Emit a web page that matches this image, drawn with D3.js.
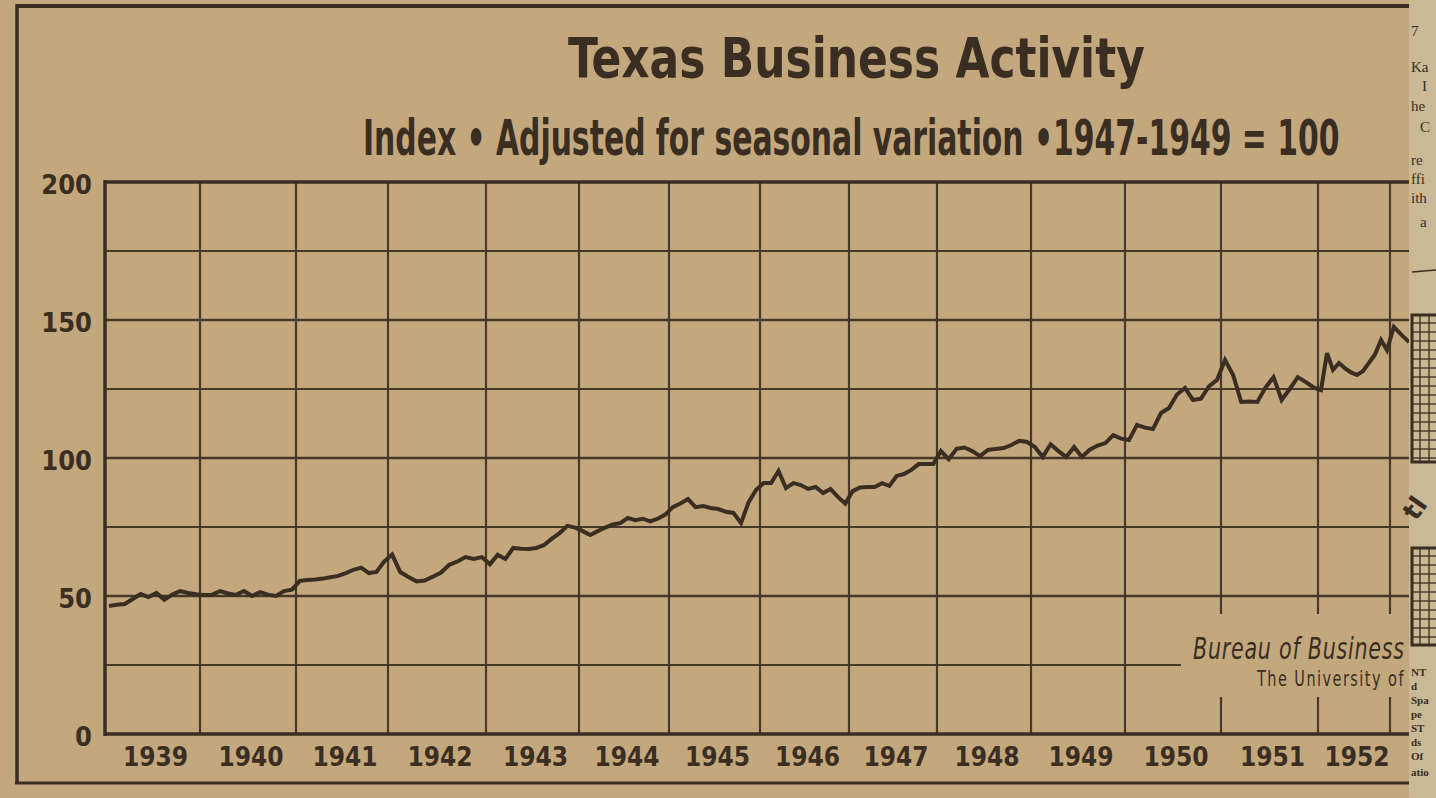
<!DOCTYPE html>
<html>
<head>
<meta charset="utf-8">
<script src="https://cdn.jsdelivr.net/npm/d3@7"></script>
<style>
html, body { margin: 0; padding: 0; background: #c4a87d; }
svg { display: block; }
</style>
</head>
<body>
<div id="chart"></div>
<script>
var width = 1436, height = 798;

//monthly index, Jan 1939 .. Mar 1953
var startYear = 1939;
var indexValues = [
    46.4, 46.8, 47.1, 48.9, 50.7, 49.6, 51.1, 48.6, 50.5, 51.8, 51.1, 50.6,   //1939
    50.4, 50.4, 51.8, 50.9, 50.4, 51.8, 50.0, 51.4, 50.5, 50.0, 51.8, 52.3,   //1940
    55.5, 55.8, 56.0, 56.3, 56.8, 57.3, 58.3, 59.5, 60.3, 58.3, 58.7, 62.5,   //1941
    65.0, 58.7, 56.9, 55.3, 55.6, 57.0, 58.5, 61.3, 62.5, 64.1, 63.4, 64.1,   //1942
    61.5, 64.9, 63.4, 67.4, 67.1, 67.0, 67.4, 68.5, 70.8, 72.8, 75.4, 74.8,   //1943
    73.5, 72.1, 73.5, 74.8, 75.9, 76.4, 78.3, 77.5, 78.0, 77.0, 78.0, 79.5,   //1944
    82.2, 83.5, 85.1, 82.2, 82.6, 81.9, 81.5, 80.5, 80.1, 76.4, 84.0, 88.5,   //1945
    90.9, 90.9, 95.3, 89.1, 90.9, 90.2, 88.8, 89.5, 87.3, 88.8, 85.9, 83.5,   //1946
    88.0, 89.3, 89.5, 89.5, 90.9, 89.9, 93.5, 94.2, 95.7, 97.8, 97.8, 97.8,   //1947
    102.5, 99.6, 103.3, 103.8, 102.5, 100.7, 102.9, 103.3, 103.6, 104.7, 106.2, 105.8, //1948
    104.0, 100.4, 105.0, 102.5, 100.4, 104.0, 100.4, 103.0, 104.5, 105.4, 108.3, 107.0, //1949
    106.5, 112.0, 111.0, 110.5, 116.3, 118.1, 123.0, 125.4, 121.0, 121.5, 126.0, 128.3, //1950
    135.5, 130.1, 120.3, 120.5, 120.3, 125.5, 129.3, 121.0, 125.0, 129.3, 127.5, 125.5, //1951
    124.6, 138.0, 131.9, 134.4, 132.5, 131.0, 130.1, 131.5, 134.5, 137.5, 142.8, 139.1, //1952
    147.5, 144.6, 142.0                                                        //1953
];

var yearLabels = [1939, 1940, 1941, 1942, 1943, 1944, 1945, 1946, 1947, 1948, 1949, 1950, 1951, 1952];
var yearLines = [1940, 1941, 1942, 1943, 1944, 1945, 1946, 1947, 1948, 1949, 1950, 1951, 1952, 1953];
var yTicks = [0, 50, 100, 150, 200];
var yMinor = [25, 75, 125, 175];

var titleText = 'Texas Business Activity';
var subtitleText = 'Index \u2022 Adjusted for seasonal variation \u20221947-1949 = 100';
//the credit is cut by the page edge in the clipping
var creditLines = ['Bureau of Business', 'The University of'];

var colours = {
    paper: '#c4a87d',
    ink: '#3a2e22',
    grid: '#46392a',
    strip: '#cab995'
};
var fontCond = '"Liberation Sans Narrow", "DejaVu Sans Condensed", "Roboto Condensed", "DejaVu Sans", sans-serif';

//the drawn years are not quite even, so the year edges are pinned one by one
var x = d3.scaleLinear()
    .domain([1939, 1940, 1941, 1942, 1943, 1944, 1945, 1946, 1947, 1948, 1949, 1950, 1951, 1952, 1953, 1954])
    .range([105, 200, 296, 388, 486, 579, 669, 760, 849, 937, 1031, 1125, 1221, 1318, 1390, 1482]);
var y = d3.scaleLinear().domain([0, 200]).range([734, 182]);
var cropX = 1409;

var svg = d3.select('#chart')
    .append('svg')
    .attr('width', width)
    .attr('height', height);

svg.append('rect')
    .attr('width', width).attr('height', height)
    .attr('fill', colours.paper);

svg.append('clipPath').attr('id', 'crop')
    .append('rect').attr('x', 0).attr('y', 0).attr('width', cropX).attr('height', height);

var g = svg.append('g').attr('clip-path', 'url(#crop)');

//squeeze a text horizontally so it spans the given width (the print face is very narrow)
function fitText(parent, str, x0, y0, w, size, weight, style, spacing) {
    var t = parent.append('text')
        .attr('x', 0).attr('y', 0)
        .style('font-family', fontCond).style('font-stretch', 'condensed')
        .style('font-size', size + 'px')
        .style('font-weight', weight || 'normal')
        .style('font-style', style || 'normal')
        .style('letter-spacing', (spacing || 0) + 'px')
        .attr('fill', colours.ink)
        .text(str);
    var natural = t.node().getComputedTextLength();
    t.attr('transform', 'translate(' + x0 + ',' + y0 + ') scale(' + (w / natural) + ',1)');
    return t;
}

//outer frame
g.append('line').attr('x1', 17).attr('x2', width).attr('y1', 6).attr('y2', 6)
    .attr('stroke', colours.ink).attr('stroke-width', 4);
g.append('line').attr('x1', 17).attr('x2', 17).attr('y1', 4).attr('y2', 784)
    .attr('stroke', colours.ink).attr('stroke-width', 3.5);
g.append('line').attr('x1', 15).attr('x2', width).attr('y1', 783).attr('y2', 783)
    .attr('stroke', colours.ink).attr('stroke-width', 3);

//titles
fitText(g, titleText, 568, 77, 577, 56, 'bold');
fitText(g, subtitleText, 363, 155, 977, 50, 'bold');

//horizontal grid
var hGrid = g.append('g').attr('class', 'h-grid');
hGrid.selectAll('line.major')
    .data(yTicks.filter(function(d) { return d > 0 && d < 200; }))
    .enter().append('line')
    .attr('class', 'major')
    .attr('x1', x(1939)).attr('x2', cropX)
    .attr('y1', function(d) { return y(d); })
    .attr('y2', function(d) { return y(d); })
    .attr('stroke', colours.grid).attr('stroke-width', 2.4);
hGrid.selectAll('line.minor')
    .data(yMinor)
    .enter().append('line')
    .attr('class', 'minor')
    .attr('x1', x(1939))
    //the lowest line stops short of the credit block
    .attr('x2', function(d) { return d === 25 ? 1181 : cropX; })
    .attr('y1', function(d) { return y(d); })
    .attr('y2', function(d) { return y(d); })
    .attr('stroke', colours.grid).attr('stroke-width', 2);

//vertical grid (year edges)
var vGrid = g.append('g').attr('class', 'v-grid');
yearLines.forEach(function(yr) {
    var xx = x(yr);
    if (yr >= 1951) {
        vGrid.append('line').attr('x1', xx).attr('x2', xx).attr('y1', y(200)).attr('y2', 614)
            .attr('stroke', colours.grid).attr('stroke-width', 2.2);
        vGrid.append('line').attr('x1', xx).attr('x2', xx).attr('y1', 697).attr('y2', y(0))
            .attr('stroke', colours.grid).attr('stroke-width', 2.2);
    } else {
        vGrid.append('line').attr('x1', xx).attr('x2', xx).attr('y1', y(200)).attr('y2', y(0))
            .attr('stroke', colours.grid).attr('stroke-width', 2.2);
    }
});

//plot borders
g.append('line').attr('x1', x(1939)).attr('x2', cropX).attr('y1', y(200)).attr('y2', y(200))
    .attr('stroke', colours.ink).attr('stroke-width', 3.5);
g.append('line').attr('x1', x(1939)).attr('x2', cropX).attr('y1', y(0)).attr('y2', y(0))
    .attr('stroke', colours.ink).attr('stroke-width', 3.5);
g.append('line').attr('x1', x(1939)).attr('x2', x(1939)).attr('y1', y(200) - 2).attr('y2', y(0) + 2)
    .attr('stroke', colours.ink).attr('stroke-width', 3.5);

//y labels
g.selectAll('text.ylab')
    .data(yTicks)
    .enter().append('text')
    .attr('class', 'ylab')
    .attr('x', 92)
    .attr('y', function(d) { return y(d) + 2; })
    .attr('text-anchor', 'end')
    .attr('dominant-baseline', 'central')
    .style('font-family', fontCond).style('font-stretch', 'condensed')
    .style('font-size', '27px').style('font-weight', 'bold')
    .attr('fill', colours.ink)
    .text(function(d) { return d; });

//year labels, centred in each year
g.selectAll('text.xlab')
    .data(yearLabels)
    .enter().append('text')
    .attr('class', 'xlab')
    .attr('x', function(d) { return x(d + 0.5) + 3; })
    .attr('y', 766)
    .attr('text-anchor', 'middle')
    .style('font-family', fontCond).style('font-stretch', 'condensed')
    .style('font-size', '26px').style('font-weight', 'bold')
    .attr('fill', colours.ink)
    .text(function(d) { return d; });

//credit block
fitText(g, creditLines[0], 1193, 659, 212, 30, 'normal', 'italic', 1);
fitText(g, creditLines[1], 1257, 686, 148, 22, 'normal', 'normal', 2);

//the index line
var line = d3.line()
    .x(function(d, i) { return x(startYear + (i + 0.5) / 12); })
    .y(function(d) { return y(d); });

g.append('path')
    .datum(indexValues)
    .attr('fill', 'none')
    .attr('stroke', colours.ink)
    .attr('stroke-width', 4)
    .attr('stroke-linejoin', 'miter')
    .attr('d', line);

//neighbouring clipping on the right edge
var strip = svg.append('g').attr('class', 'strip');
strip.append('rect')
    .attr('x', cropX).attr('y', 0).attr('width', width - cropX).attr('height', height)
    .attr('fill', colours.strip);
var stripWords = [['7', 36, 1411], ['Ka', 72, 1411], ['I', 91, 1422], ['he', 111, 1411],
    ['C', 132, 1420], ['re', 165, 1411], ['ffi', 184, 1411], ['ith', 203, 1411], ['a', 227, 1420]];
strip.selectAll('text.w')
    .data(stripWords)
    .enter().append('text')
    .attr('class', 'w')
    .attr('x', function(d) { return d[2]; })
    .attr('y', function(d) { return d[1]; })
    .style('font-family', '"Liberation Serif", serif').style('font-size', '15px')
    .attr('fill', colours.ink)
    .text(function(d) { return d[0]; });
strip.append('line').attr('x1', 1412).attr('x2', width).attr('y1', 272).attr('y2', 270)
    .attr('stroke', colours.ink).attr('stroke-width', 1.5);
//small hatched boxes
[[315, 462], [548, 645]].forEach(function(b) {
    strip.append('rect').attr('x', 1412).attr('y', b[0]).attr('width', 30).attr('height', b[1] - b[0])
        .attr('fill', 'none').attr('stroke', colours.ink).attr('stroke-width', 3);
    d3.range(b[0] + 8, b[1], 9).forEach(function(yy) {
        strip.append('line').attr('x1', 1412).attr('x2', width).attr('y1', yy).attr('y2', yy)
            .attr('stroke', colours.ink).attr('stroke-width', 1.3);
    });
    [1420, 1429].forEach(function(xx) {
        strip.append('line').attr('x1', xx).attr('x2', xx).attr('y1', b[0]).attr('y2', b[1])
            .attr('stroke', colours.ink).attr('stroke-width', 1.3);
    });
});
strip.append('text')
    .attr('transform', 'translate(1416,522) rotate(-55)')
    .style('font-family', '"DejaVu Sans", sans-serif').style('font-size', '26px').style('font-weight', 'bold')
    .attr('fill', colours.ink)
    .text('tl');
var stripLower = [['NT', 676], ['d', 690], ['Spa', 704], ['pe', 718], ['ST', 732], ['ds', 746], ['Of', 760], ['atio', 776]];
strip.selectAll('text.l')
    .data(stripLower)
    .enter().append('text')
    .attr('class', 'l')
    .attr('x', 1411)
    .attr('y', function(d) { return d[1]; })
    .style('font-family', '"Liberation Serif", serif').style('font-size', '11px').style('font-weight', 'bold')
    .attr('fill', colours.ink)
    .text(function(d) { return d[0]; });
</script>
</body>
</html>
